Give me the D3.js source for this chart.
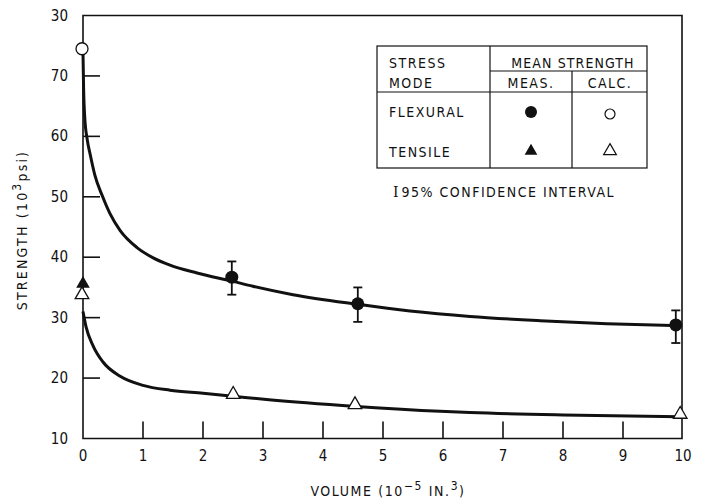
<!DOCTYPE html>
<html><head><meta charset="utf-8">
<script src="https://cdn.jsdelivr.net/npm/d3@7"></script>
<style>
html,body{margin:0;padding:0;background:#fff;}
svg text{font-family:"DejaVu Sans Condensed","Liberation Sans Narrow","Arial Narrow",sans-serif;fill:#111;}
</style></head>
<body><svg id="c" width="701" height="503"></svg>
<script>
// ---- data ----
const xTicks = [0,1,2,3,4,5,6,7,8,9,10];
const xTickLabels = ["0","1","2","3","4","5","6","7","8","9","10"];
const yTicks = [10,20,30,40,50,60,70,80];
const yTickLabels = ["10","20","30","40","50","60","70","30"]; // top label printed "30" in original
// flexural measured (filled circles) with 95% CI
const flexMeasX = [2.48, 4.58, 9.88];
const flexMeasY = [36.7, 32.3, 28.8];
const flexMeasLo = [33.8, 29.3, 25.8];
const flexMeasHi = [39.3, 35.0, 31.2];
// flexural calculated (open circle)
const flexCalcX = [0];
const flexCalcY = [74.5];
// tensile measured (filled triangle)
const tensMeasX = [0];
const tensMeasY = [35.6];
// tensile calculated (open triangles)
const tensCalcX = [0, 2.52, 4.55, 9.97];
const tensCalcY = [33.8, 17.3, 15.6, 14.0];
// fitted curves
const flexCurveX = [0, 0.01, 0.03, 0.07, 0.12, 0.2, 0.32, 0.45, 0.62, 0.9, 1.17, 1.45, 1.9, 2.5, 2.83, 3.5, 4.58, 5.45, 6.45, 7.62, 8.73, 9.83];
const flexCurveY = [73.7, 68, 63, 59.5, 57, 53.5, 50.2, 47.2, 44.4, 41.6, 39.9, 38.7, 37.4, 36.0, 35.2, 33.8, 32.2, 31.1, 30.2, 29.5, 29.0, 28.7];
const tensCurveX = [0, 0.05, 0.17, 0.33, 0.62, 1.0, 1.45, 2.0, 2.5, 3.1, 4.55, 5.95, 6.45, 8.0, 9.95];
const tensCurveY = [31.0, 28.5, 25.3, 22.7, 20.3, 18.8, 18.0, 17.5, 17.0, 16.4, 15.3, 14.5, 14.3, 13.9, 13.6];

const svg = d3.select("#c");
const x = d3.scaleLinear().domain([0,10]).range([83,683]);
const y = d3.scaleLinear().domain([10,80]).range([438.5,15.5]);
const ink = "#111";

// frame
svg.append("path")
  .attr("d", `M${x(0)},${y(10)} L${x(0)},${y(80)} L${x(10)-1},${y(80)} L${x(10)-1},${y(10)} Z`)
  .attr("fill","none").attr("stroke",ink).attr("stroke-width",1.6);

// x ticks (inside, upward)
svg.append("g").selectAll("line").data(xTicks.slice(1,-1)).join("line")
  .attr("x1",d=>x(d)).attr("x2",d=>x(d)).attr("y1",y(10)).attr("y2",y(10)-17)
  .attr("stroke",ink).attr("stroke-width",1.6);
svg.append("g").selectAll("text").data(xTicks).join("text")
  .attr("x",d=>x(d)).attr("y",461).attr("text-anchor","middle")
  .attr("font-size",15).text((d,i)=>xTickLabels[i]);

// y ticks (inside, rightward)
svg.append("g").selectAll("line").data(yTicks.slice(1,-1)).join("line")
  .attr("x1",x(0)).attr("x2",x(0)+17).attr("y1",d=>y(d)).attr("y2",d=>y(d))
  .attr("stroke",ink).attr("stroke-width",1.6);
svg.append("g").selectAll("text").data(yTicks).join("text")
  .attr("x",68).attr("y",d=>y(d)+5).attr("text-anchor","end")
  .attr("font-size",15).text((d,i)=>yTickLabels[i]);

// axis titles
const xt = svg.append("text").attr("x",388).attr("y",496).attr("text-anchor","middle")
  .attr("font-size",14).attr("letter-spacing",1.6);
xt.append("tspan").text("VOLUME (10");
xt.append("tspan").attr("dy",-6).attr("font-size",12).text("−5");
xt.append("tspan").attr("dy",6).text(" IN.");
xt.append("tspan").attr("dy",-6).attr("font-size",12).text("3");
xt.append("tspan").attr("dy",6).text(")");

const yt = svg.append("text").attr("transform","translate(27,230) rotate(-90)")
  .attr("text-anchor","middle").attr("font-size",14).attr("letter-spacing",2.2);
yt.append("tspan").text("STRENGTH (10");
yt.append("tspan").attr("dy",-6).attr("font-size",12).text("3");
yt.append("tspan").attr("dy",6).text("psi)");

// curves
const line = d3.line().x(d=>x(d[0])).y(d=>y(d[1])).curve(d3.curveMonotoneX);
svg.append("path").datum(flexCurveX.map((v,i)=>[v,flexCurveY[i]]))
  .attr("d",line).attr("fill","none").attr("stroke",ink).attr("stroke-width",3);
svg.append("path").datum(tensCurveX.map((v,i)=>[v,tensCurveY[i]]))
  .attr("d",line).attr("fill","none").attr("stroke",ink).attr("stroke-width",3);

// error bars
const eb = svg.append("g").attr("stroke",ink).attr("stroke-width",1.8);
flexMeasX.forEach((v,i)=>{
  eb.append("line").attr("x1",x(v)).attr("x2",x(v)).attr("y1",y(flexMeasLo[i])).attr("y2",y(flexMeasHi[i]));
  eb.append("line").attr("x1",x(v)-4.5).attr("x2",x(v)+4.5).attr("y1",y(flexMeasLo[i])).attr("y2",y(flexMeasLo[i]));
  eb.append("line").attr("x1",x(v)-4.5).attr("x2",x(v)+4.5).attr("y1",y(flexMeasHi[i])).attr("y2",y(flexMeasHi[i]));
});

// markers
const tri = d3.symbol().type(d3.symbolTriangle);
svg.append("g").selectAll("circle").data(flexMeasX).join("circle")
  .attr("cx",d=>x(d)).attr("cy",(d,i)=>y(flexMeasY[i])).attr("r",6.5).attr("fill",ink);
svg.append("g").selectAll("circle").data(flexCalcX).join("circle")
  .attr("cx",d=>x(d)-1).attr("cy",(d,i)=>y(flexCalcY[i])).attr("r",6).attr("fill","#fff")
  .attr("stroke",ink).attr("stroke-width",1.3);
svg.append("g").selectAll("path").data(tensMeasX).join("path")
  .attr("d",tri.size(80)).attr("transform",(d,i)=>`translate(${x(d)},${y(tensMeasY[i])})`).attr("fill",ink);
svg.append("g").selectAll("path").data(tensCalcX).join("path")
  .attr("d",tri.size(80)).attr("transform",(d,i)=>`translate(${x(d)-1},${y(tensCalcY[i])})`)
  .attr("fill","#fff").attr("stroke",ink).attr("stroke-width",1.3);

// legend table
const lg = svg.append("g").attr("stroke",ink).attr("stroke-width",1.2).attr("fill","none");
lg.append("rect").attr("x",377).attr("y",46).attr("width",270).attr("height",122);
lg.append("line").attr("x1",377).attr("x2",647).attr("y1",92).attr("y2",92);
lg.append("line").attr("x1",490).attr("x2",490).attr("y1",46).attr("y2",168);
lg.append("line").attr("x1",490).attr("x2",647).attr("y1",71).attr("y2",71);
lg.append("line").attr("x1",572).attr("x2",572).attr("y1",71).attr("y2",168);
const lt = svg.append("g").attr("font-size",14).attr("letter-spacing",1.5);
lt.append("text").attr("x",389).attr("y",68).text("STRESS");
lt.append("text").attr("x",389).attr("y",88).text("MODE");
lt.append("text").attr("x",573).attr("y",68).attr("text-anchor","middle").attr("letter-spacing",1.1).text("MEAN STRENGTH");
lt.append("text").attr("x",531).attr("y",88).attr("text-anchor","middle").text("MEAS.");
lt.append("text").attr("x",610).attr("y",88).attr("text-anchor","middle").text("CALC.");
lt.append("text").attr("x",389).attr("y",117).text("FLEXURAL");
lt.append("text").attr("x",389).attr("y",157).text("TENSILE");
const ci = lt.append("text").attr("x",393).attr("y",197);
ci.append("tspan").attr("font-family","DejaVu Serif, serif").attr("letter-spacing",0).text("I");
ci.append("tspan").attr("dx",3).text("95% CONFIDENCE INTERVAL");
svg.append("circle").attr("cx",531).attr("cy",112).attr("r",6).attr("fill",ink);
svg.append("circle").attr("cx",610).attr("cy",114).attr("r",5).attr("fill","#fff").attr("stroke",ink).attr("stroke-width",1.2);
svg.append("path").attr("d",tri.size(70)).attr("transform","translate(531,151)").attr("fill",ink);
svg.append("path").attr("d",tri.size(70)).attr("transform","translate(610,151)").attr("fill","#fff").attr("stroke",ink).attr("stroke-width",1.2);
</script></body></html>
